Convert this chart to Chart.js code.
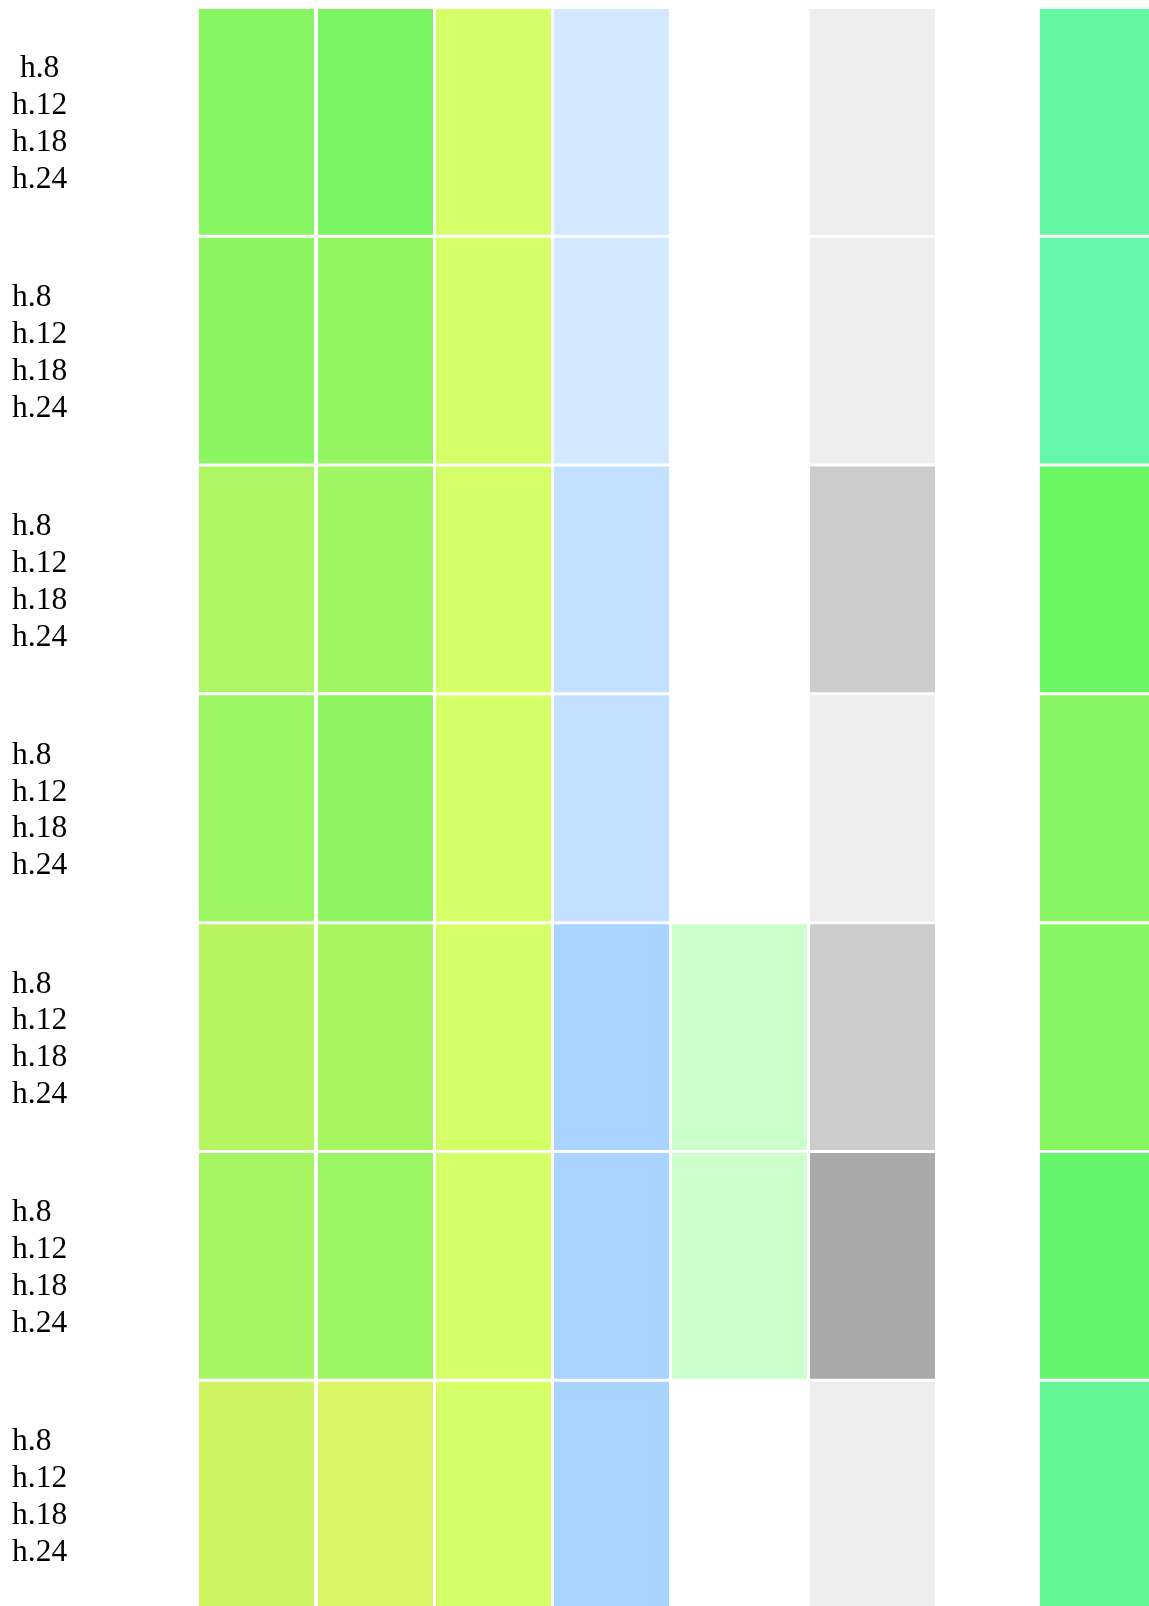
<!DOCTYPE html>
<html>
<head>
<meta charset="utf-8">
<script src="https://cdn.jsdelivr.net/npm/chart.js@4/dist/chart.umd.min.js"></script>
<style>
  html, body { margin: 0; padding: 0; background: #fff; overflow: hidden; }
  #wrap { width: 1149px; height: 1609px; }
</style>
</head>
<body>
<div id="wrap"><canvas id="chart"></canvas></div>
<script>
// row labels (one row per block of horizons)
const rowLabels = [
    [' h.8', 'h.12', 'h.18', 'h.24'],
    ['h.8', 'h.12', 'h.18', 'h.24'],
    ['h.8', 'h.12', 'h.18', 'h.24'],
    ['h.8', 'h.12', 'h.18', 'h.24'],
    ['h.8', 'h.12', 'h.18', 'h.24'],
    ['h.8', 'h.12', 'h.18', 'h.24'],
    ['h.8', 'h.12', 'h.18', 'h.24'],
];

// cell values per column, top row first (null = empty cell)
const col1 = [94, 91, 57, 74, 46, 64, 22];
const col2 = [106, 82, 70, 86, 62, 74, 10];
const col3 = [1, 1, 1, 1, 1, 1, 1];
const col4 = [1, 1, 2, 2, 3, 3, 3];
const col5 = [null, null, null, null, 1, 1, null];
const col6 = [1, 1, 2, 1, 2, 3, 1];
const col7 = [45, 48, 17, 5, 5, 24, 40];

// layout: where each column sits on the x scale
const colSpans = [[0, 115], [119, 234], [237, 352], [355, 470], [473, 608], [611, 736], [841, 950]];

// colour scales
const greenYellow = v => `rgb(${230 - v}, 245, 98)`;
const blues = ['#D4E8FF', '#C2E0FF', '#A8D4FF'];
const greys = ['#EEEEEE', '#CCCCCC', '#AAAAAA'];

const columns = [
    {values: col1, color: greenYellow},
    {values: col2, color: greenYellow},
    {values: col3, color: () => '#D4FF66'},
    {values: col4, color: v => blues[v - 1]},
    {values: col5, color: () => '#CCFFCC'},
    {values: col6, color: v => greys[v - 1]},
    {values: col7, color: v => `hsl(${100 + v}, 90%, 68%)`},
];

function makeDataset(col, i) {
    return {
        label: 'col' + (i + 1),
        data: col.values.map(v => v == null ? null : colSpans[i]),
        backgroundColor: col.values.map(v => v == null ? 'rgba(0,0,0,0)' : col.color(v)),
        borderWidth: 0,
        grouped: false,
        categoryPercentage: 1,
        barPercentage: 0.987,
    };
}

new Chart(document.getElementById('chart'), {
    type: 'bar',
    data: {
        labels: rowLabels,
        datasets: columns.map(makeDataset)
    },
    options: {
        indexAxis: 'y',
        responsive: true,
        maintainAspectRatio: false,
        animation: false,
        layout: {
            padding: {left: 12, top: 7.5, right: 0, bottom: 0}
        },
        plugins: {
            legend: {display: false},
            tooltip: {enabled: false}
        },
        scales: {
            x: {
                type: 'linear',
                min: 0,
                max: 950,
                display: false
            },
            y: {
                type: 'category',
                grid: {display: false},
                border: {display: false},
                ticks: {
                    color: '#000',
                    crossAlign: 'far',
                    autoSkip: false,
                    padding: 0,
                    labelOffset: 2.5,
                    font: {family: 'Liberation Serif', size: 31.5, lineHeight: 1.17}
                },
                afterFit: scale => {
                    scale.width = 187;
                    scale.paddingTop = 0;
                    scale.paddingBottom = 0;
                }
            }
        }
    }
});
</script>
</body>
</html>
